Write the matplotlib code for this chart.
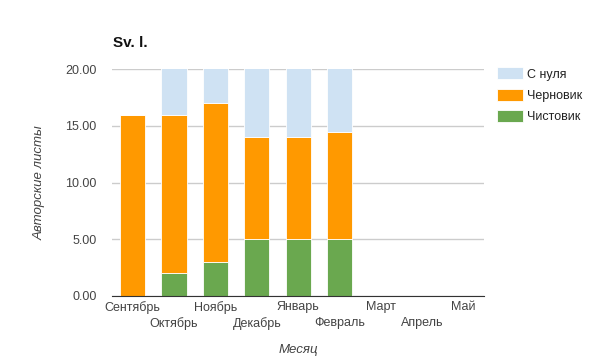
import matplotlib.pyplot as plt
import numpy as np

plt.rcParams['font.family'] = ['Liberation Sans', 'DejaVu Sans']

months = ["Сентябрь", "Октябрь", "Ноябрь", "Декабрь", "Январь",
          "Февраль", "Март", "Апрель", "Май"]
clean = [0, 2, 3, 5, 5, 5, 0, 0, 0]          # Чистовик
draft = [16, 14, 14, 9, 9, 9.5, 0, 0, 0]     # Черновик
scratch = [0, 5, 4, 7, 7, 6.5, 0, 0, 0]      # С нуля (cut off at 20)
yticks = [0, 5, 10, 15, 20]

c_clean = "#6aa84f"
c_draft = "#ff9900"
c_scratch = "#cfe2f3"
txt = "#444444"

fig = plt.figure(figsize=(5.91, 3.64), dpi=100)
ax = fig.add_axes([0.1895, 0.187, 0.630, 0.623])

x = np.arange(len(months))
w = 0.61
b1 = ax.bar(x, clean, w, color=c_clean, edgecolor="white", linewidth=0.6, zorder=3)
b2 = ax.bar(x, draft, w, bottom=clean, color=c_draft, edgecolor="white",
            linewidth=0.6, zorder=3)
bottom2 = np.array(clean) + np.array(draft)
b3 = ax.bar(x, scratch, w, bottom=bottom2, color=c_scratch, edgecolor="white",
            linewidth=0.6, zorder=3)

ax.set_xlim(-0.5, len(months) - 0.5)
ax.set_ylim(0, 20)
ax.set_yticks(yticks)
ax.set_yticklabels([f"{v:.2f}" for v in yticks])
ax.grid(axis="y", color="#cccccc", linewidth=1, zorder=0)
ax.set_axisbelow(True)

# staggered month labels: even on major ticks, odd on minor ticks further down
ax.set_xticks(x[::2])
ax.set_xticklabels(months[::2])
ax.set_xticks(x[1::2], minor=True)
ax.set_xticklabels(months[1::2], minor=True)
ax.tick_params(axis="both", which="both", length=0, labelsize=9, labelcolor=txt)
ax.tick_params(axis="y", pad=11)
ax.tick_params(axis="x", which="major", pad=4)
ax.tick_params(axis="x", which="minor", pad=15)

for s in ["top", "right", "left"]:
    ax.spines[s].set_visible(False)
ax.spines["bottom"].set_color("#333333")
ax.spines["bottom"].set_zorder(4)

ax.set_xlabel("Месяц", fontsize=9.5, style="italic", color=txt, labelpad=10)
ax.set_ylabel("Авторские листы", fontsize=9.5, style="italic", color=txt, labelpad=14)

fig.text(0.191, 0.872, "Sv. l.", fontsize=11, fontweight="bold", color="#111111")

ax.legend([b3, b2, b1], ["С нуля", "Черновик", "Чистовик"],
          loc="upper left", bbox_to_anchor=(1.02, 1.03), frameon=False,
          fontsize=9, labelcolor="#222222", handlelength=2.1, handleheight=1.1,
          handletextpad=0.3, labelspacing=0.65, borderaxespad=0)

fig.savefig("out.png", dpi=100)
